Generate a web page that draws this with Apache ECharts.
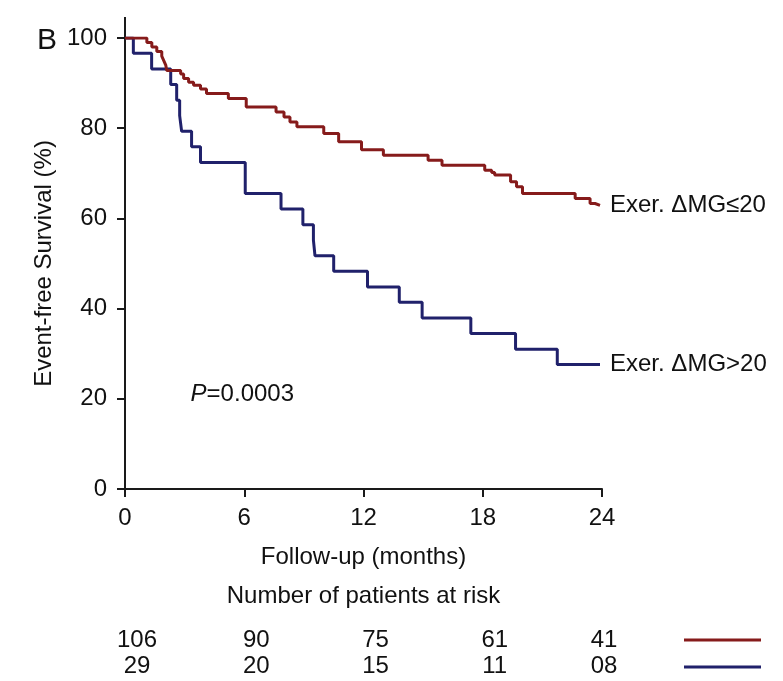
<!DOCTYPE html>
<html>
<head>
<meta charset="utf-8">
<script src="https://cdn.jsdelivr.net/npm/echarts@6/dist/echarts.min.js"></script>
<style>
  html, body { margin: 0; padding: 0; background: #fff; }
  #km { width: 783px; height: 681px; }
</style>
</head>
<body>
<div id="km"></div>
<script>
// Kaplan-Meier steps (months, % event-free)
var lowTimes = [0, 1.1, 1.35, 1.6, 1.85, 1.95, 2.05, 2.1, 2.8, 2.95, 3.2, 3.45, 3.8, 4.1, 5.2, 6.1, 7.6, 8.0, 8.3, 8.65,
  10.0, 10.75, 11.9, 13.0, 15.25, 15.95, 18.1, 18.45, 18.6, 19.4, 19.7, 20.0, 22.65, 23.4, 23.65, 23.9];
var lowSurv = [100, 99.0, 98.0, 97.0, 96.0, 95.0, 94.0, 92.8, 92.0, 91.0, 90.2, 89.5, 88.7, 87.7, 86.6, 84.7, 83.6, 82.5, 81.4, 80.3,
  78.8, 77.0, 75.2, 74.0, 72.9, 71.8, 70.7, 70.2, 69.6, 68.1, 67.0, 65.5, 64.4, 63.3, 62.9, 62.9];

var highTimes = [0, 0.42, 1.34, 2.3, 2.6, 2.75, 2.85, 3.35, 3.8, 6.05, 7.85, 8.95, 9.48, 9.56,
  10.5, 12.2, 13.8, 14.95, 17.4, 19.65, 21.75, 23.9];
var highSurv = [100, 96.6, 93.1, 89.7, 86.2, 82.8, 79.3, 75.9, 72.4, 65.5, 62.1, 58.6, 55.2, 51.7,
  48.3, 44.8, 41.4, 37.9, 34.5, 31.0, 27.6, 27.6];

// patients at risk
var riskTimes = [0, 6, 12, 18, 24];
var riskLow = ['106', '90', '75', '61', '41'];
var riskHigh = ['29', '20', '15', '11', '08'];

var seriesNames = ['Exer. \u0394MG\u226420', 'Exer. \u0394MG>20'];
var redColor = '#861b1b';
var blueColor = '#20216b';
var font = "'Liberation Sans', Arial, Helvetica, sans-serif";

function pairs(t, s) {
  var out = [];
  for (var i = 0; i < t.length; i++) out.push([t[i], s[i]]);
  return out;
}

var chart = echarts.init(document.getElementById('km'));
var option = {
  backgroundColor: '#fff',
  animation: false,
  textStyle: { fontFamily: font, color: '#111' },
  title: {
    text: 'B',
    left: 32,
    top: 21,
    textStyle: { fontSize: 30, fontWeight: 'normal', color: '#111', fontFamily: font }
  },
  grid: { left: 125, right: 181, top: 38, bottom: 192 },
  xAxis: {
    type: 'value',
    min: 0,
    max: 24,
    interval: 6,
    name: 'Follow-up (months)',
    nameLocation: 'middle',
    nameGap: 56,
    nameTextStyle: { fontSize: 24, color: '#111' },
    axisLine: { lineStyle: { color: '#1a1a1a', width: 2 } },
    axisTick: { length: 8, lineStyle: { color: '#1a1a1a', width: 2 } },
    axisLabel: { fontSize: 24, color: '#111', margin: 17 },
    splitLine: { show: false }
  },
  yAxis: {
    type: 'value',
    min: 0,
    max: 100,
    interval: 20,
    name: 'Event-free Survival (%)',
    nameLocation: 'middle',
    nameGap: 68,
    nameTextStyle: { fontSize: 24, color: '#111' },
    axisLine: { show: true, lineStyle: { color: '#1a1a1a', width: 2 } },
    axisTick: { show: true, length: 8, lineStyle: { color: '#1a1a1a', width: 2 } },
    axisLabel: { fontSize: 24, color: '#111', margin: 18 },
    splitLine: { show: false }
  },
  series: [
    {
      name: seriesNames[1],
      type: 'line',
      step: 'end',
      showSymbol: false,
      data: pairs(highTimes, highSurv),
      lineStyle: { color: blueColor, width: 3 },
      itemStyle: { color: blueColor },
      endLabel: { show: true, formatter: '{a}', fontSize: 24, color: '#111', distance: 10 }
    },
    {
      name: seriesNames[0],
      type: 'line',
      step: 'end',
      showSymbol: false,
      data: pairs(lowTimes, lowSurv),
      lineStyle: { color: redColor, width: 3 },
      itemStyle: { color: redColor },
      endLabel: { show: true, formatter: '{a}', fontSize: 24, color: '#111', distance: 10 }
    }
  ]
};
chart.setOption(option);

// extras: axis stub above 100, p-value, at-risk table
var x0 = chart.convertToPixel({ xAxisIndex: 0 }, 0);
var yTop = chart.convertToPixel({ yAxisIndex: 0 }, 100);
var xMid = chart.convertToPixel({ xAxisIndex: 0 }, 12);
var pPos = chart.convertToPixel({ gridIndex: 0 }, [3.3, 21]);

var g = [
  { type: 'line', shape: { x1: x0, y1: 17, x2: x0, y2: yTop }, style: { stroke: '#1a1a1a', lineWidth: 2 } },
  { type: 'text', x: pPos[0], y: pPos[1], style: {
      text: '{i|P}=0.0003', fontSize: 24, fontFamily: font, fill: '#111', verticalAlign: 'middle',
      rich: { i: { fontStyle: 'italic', fontSize: 24, fontFamily: font } } } },
  { type: 'text', x: xMid, y: 596, style: {
      text: 'Number of patients at risk', fontSize: 24, fontFamily: font, fill: '#111', align: 'center', verticalAlign: 'middle' } }
];
for (var i = 0; i < riskTimes.length; i++) {
  var px = chart.convertToPixel({ xAxisIndex: 0 }, riskTimes[i]);
  var nudge = i === riskTimes.length - 1 ? 2 : 12;
  g.push({ type: 'text', x: px + nudge, y: 640, style: { text: riskLow[i], fontSize: 24, fontFamily: font, fill: '#111', align: 'center', verticalAlign: 'middle' } });
  g.push({ type: 'text', x: px + nudge, y: 666, style: { text: riskHigh[i], fontSize: 24, fontFamily: font, fill: '#111', align: 'center', verticalAlign: 'middle' } });
}
g.push({ type: 'line', shape: { x1: 684, y1: 640, x2: 761, y2: 640 }, style: { stroke: redColor, lineWidth: 3 } });
g.push({ type: 'line', shape: { x1: 684, y1: 667, x2: 761, y2: 667 }, style: { stroke: blueColor, lineWidth: 3 } });
chart.setOption({ graphic: g });
</script>
</body>
</html>
